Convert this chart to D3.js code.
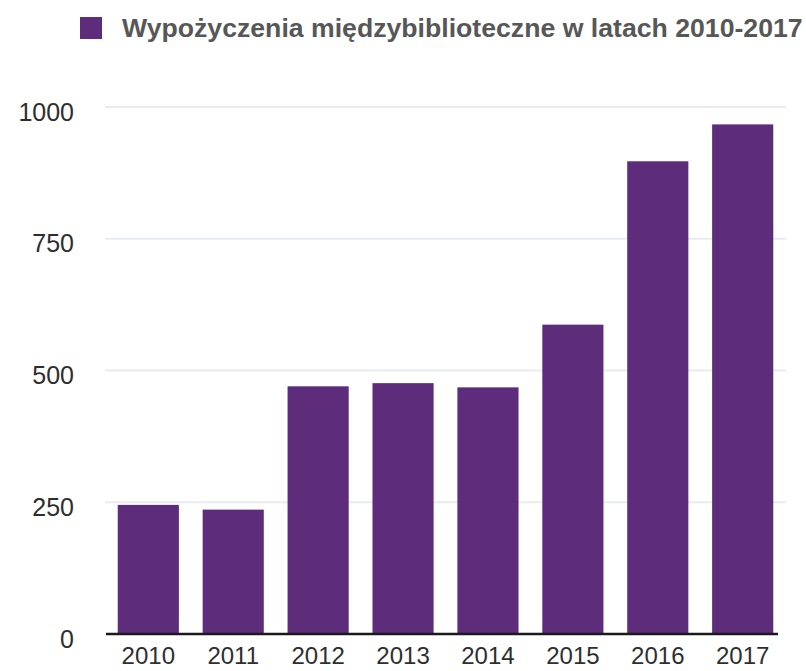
<!DOCTYPE html>
<html><head><meta charset="utf-8">
<script src="https://cdn.jsdelivr.net/npm/d3@7"></script>
<style>body{margin:0;background:#fff}svg{display:block}</style>
</head><body>
<svg id="c" width="806" height="671"></svg>
<script>
const years = ["2010","2011","2012","2013","2014","2015","2016","2017"];
const values = [245, 236, 470, 476, 468, 587, 897, 967];
const yTicks = [0, 250, 500, 750, 1000];
const legendLabel = "Wypożyczenia międzybiblioteczne w latach 2010-2017";

const svg = d3.select("#c");
const barColor = "#5d2d7c";
const x = d3.scaleBand().domain(years).range([105, 786]).paddingInner(0.28).paddingOuter(0.15);
const y = d3.scaleLinear().domain([0, 1000]).range([634, 107]);

// gridlines
svg.append("g").selectAll("line").data(yTicks.filter(d => d > 0)).join("line")
  .attr("x1", 105).attr("x2", 786)
  .attr("y1", d => y(d)).attr("y2", d => y(d))
  .attr("stroke", "#e8ecf2").attr("stroke-width", 2);

// bars
svg.append("g").selectAll("rect").data(years).join("rect")
  .attr("x", d => x(d)).attr("width", x.bandwidth())
  .attr("y", (d, i) => y(values[i])).attr("height", (d, i) => y(0) - y(values[i]))
  .attr("fill", barColor);

// baseline
svg.append("line").attr("x1", 106).attr("x2", 778).attr("y1", y(0)).attr("y2", y(0))
  .attr("stroke", "#1a1a1a").attr("stroke-width", 2.5);

// y axis labels
const yAxis = d3.axisLeft(y).tickValues(yTicks).tickFormat(d3.format("d")).tickSize(0).tickPadding(0);
const gy = svg.append("g").attr("transform", "translate(74,5)").call(yAxis);
gy.select(".domain").remove();
gy.selectAll("text").attr("font-family", "Liberation Sans, Arial, sans-serif")
  .attr("font-size", 25).attr("fill", "#2e2e2e");

// x axis labels
const xAxis = d3.axisBottom(x).tickSize(0).tickPadding(0);
const gx = svg.append("g").attr("transform", "translate(0,664)").call(xAxis);
gx.select(".domain").remove();
gx.selectAll("text").attr("font-family", "Liberation Sans, Arial, sans-serif")
  .attr("font-size", 24).attr("fill", "#2e2e2e").attr("dy", "0").attr("y", 0);

// legend
svg.append("rect").attr("x", 80).attr("y", 17).attr("width", 22).attr("height", 22).attr("fill", barColor);
const lt = svg.append("text").attr("x", 122).attr("y", 37)
  .attr("font-family", "Liberation Sans, Arial, sans-serif").attr("font-weight", "bold")
  .attr("font-size", 25).attr("fill", "#575757").text(legendLabel);
const w = lt.node().getComputedTextLength();
if (w > 0) lt.attr("font-size", 25 * 681 / w);
</script>
</body></html>
